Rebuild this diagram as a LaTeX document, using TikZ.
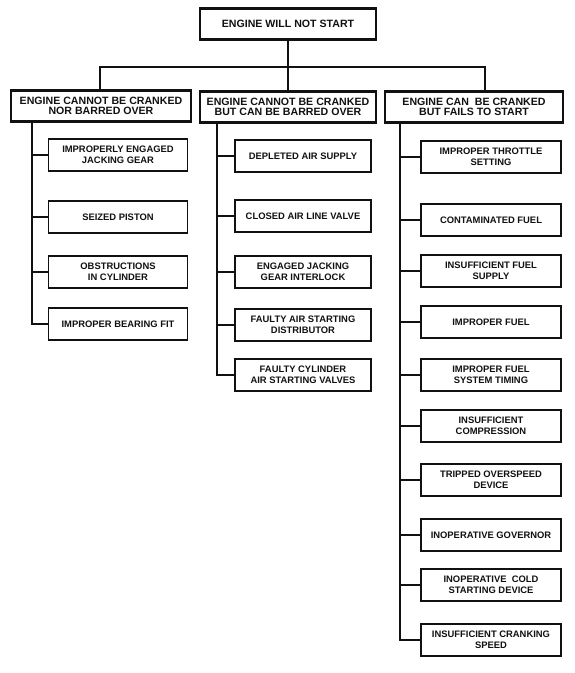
\documentclass[tikz,border=0pt]{standalone}
\usepackage{fontspec}
\setmainfont{Liberation Sans}
\usepackage{xcolor}
\usetikzlibrary{calc}
\definecolor{ink}{HTML}{111111}
\definecolor{paper}{HTML}{FFFFFF}
\tikzset{
  head/.style={draw=ink, line width=2.6pt, minimum height=31pt, inner sep=1pt, align=center, text=ink, font=\bfseries\fontsize{10.6}{10.4}\selectfont},
  cause/.style={draw=ink, line width=1.3pt, minimum width=138pt, minimum height=32pt, inner sep=1pt, align=center, text=ink, font=\bfseries\fontsize{9.4}{10.6}\selectfont},
  tree/.style={draw=ink, line width=2.6pt, line cap=rect},
}

\begin{document}
\begin{tikzpicture}[x=1pt,y=-1pt]
  \useasboundingbox[fill=paper] (0,0) rectangle (575,673);

  % top and the three branches
  \node[head, minimum width=176pt] (top) at (288,24) {ENGINE WILL NOT START};
  \node[head, minimum width=180pt] (lhead) at (101,106) {ENGINE CANNOT BE CRANKED\\NOR BARRED OVER};
  \node[head, minimum width=176pt] (mhead) at (288,107) {ENGINE CANNOT BE CRANKED\\BUT CAN BE BARRED OVER};
  \node[head, minimum width=178pt] (rhead) at (474,107) {ENGINE CAN\ \ BE CRANKED\\BUT FAILS TO START};

  \coordinate (barL) at (100,67);
  \coordinate (barR) at (485,67);
  \draw[tree] (top) -- (mhead);
  \draw[tree] (lhead.north -| barL) |- (barR) -- (rhead.north -| barR);

  % cannot be cranked nor barred over
  \coordinate (ltop) at (lhead.south -| 32,0);
  \foreach \y/\name/\txt in {155/l1/{IMPROPERLY ENGAGED\\JACKING GEAR},
                             217/l2/{SEIZED PISTON},
                             272/l3/{OBSTRUCTIONS\\IN CYLINDER},
                             324/l4/{IMPROPER BEARING FIT}}{
    \node[cause, minimum width=139pt] (\name) at (118,\y) {\txt};
    \draw[tree] (ltop) |- (\name.west);
  }

  % cannot be cranked but can be barred over
  \coordinate (mtop) at (mhead.south -| 217,0);
  \foreach \y/\name/\txt in {156/m1/{DEPLETED AIR SUPPLY},
                             216/m2/{CLOSED AIR LINE VALVE},
                             272/m3/{ENGAGED JACKING\\GEAR INTERLOCK},
                             325/m4/{FAULTY AIR STARTING\\DISTRIBUTOR},
                             375/m5/{FAULTY CYLINDER\\AIR STARTING VALVES}}{
    \node[cause, minimum width=136pt] (\name) at (303,\y) {\txt};
    \draw[tree] (mtop) |- (\name.west);
  }

  % can be cranked but fails to start
  \coordinate (rtop) at (rhead.south -| 400,0);
  \foreach \y/\name/\txt in {157/r1/{IMPROPER THROTTLE\\SETTING},
                             220/r2/{CONTAMINATED FUEL},
                             271/r3/{INSUFFICIENT FUEL\\SUPPLY},
                             322/r4/{IMPROPER FUEL},
                             375/r5/{IMPROPER FUEL\\SYSTEM TIMING},
                             426/r6/{INSUFFICIENT\\COMPRESSION},
                             480/r7/{TRIPPED OVERSPEED\\DEVICE},
                             535/r8/{INOPERATIVE GOVERNOR},
                             585/r9/{INOPERATIVE\ \ COLD\\STARTING DEVICE},
                             640/r10/{INSUFFICIENT CRANKING\\SPEED}}{
    \node[cause, minimum width=140pt] (\name) at (491,\y) {\txt};
    \draw[tree] (rtop) |- (\name.west);
  }
\end{tikzpicture}
\end{document}
